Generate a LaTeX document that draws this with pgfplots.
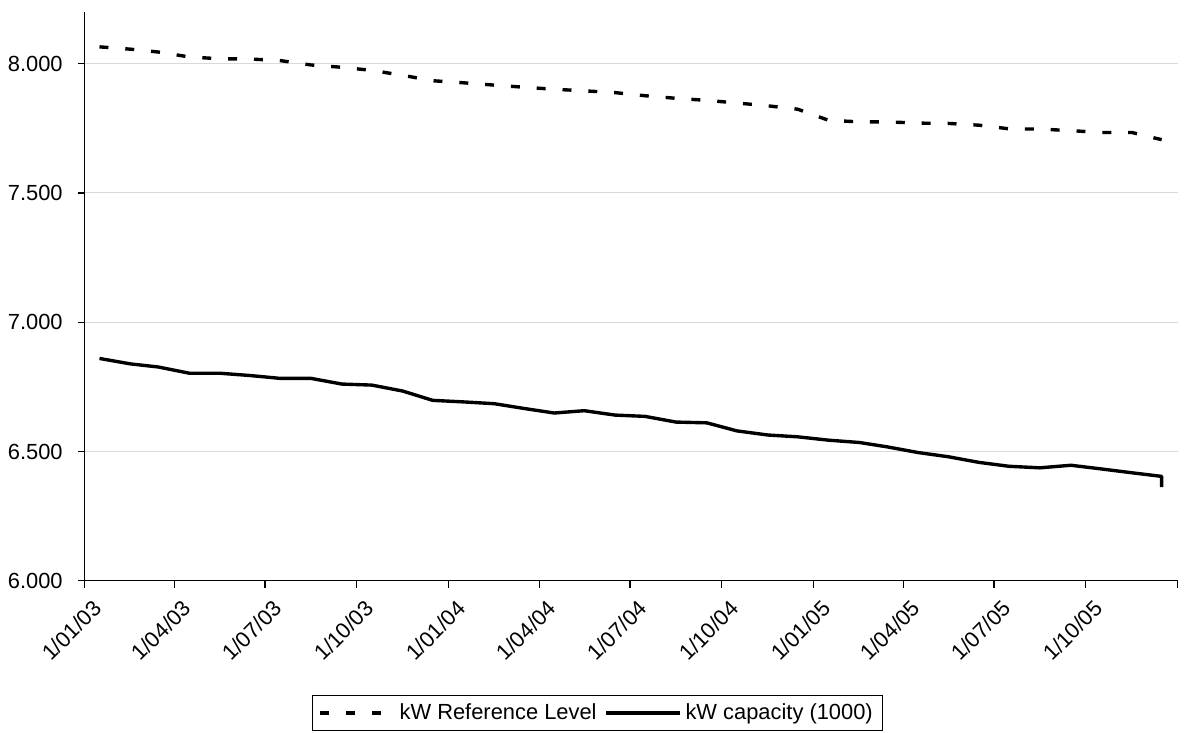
\documentclass[border=0pt]{standalone}
\usepackage{fontspec}
\setmainfont{Liberation Sans}
\usepackage{pgfplots}
\pgfplotsset{compat=1.18}
\begin{document}
\begin{tikzpicture}
\path (-42.5pt,-76pt) rectangle (554.5pt,292pt);
\begin{axis}[
 at={(0pt,0pt)}, anchor=south west,
 scale only axis, width=549.5pt, height=286pt,
 xmin=0, xmax=1096, ymin=6000, ymax=8200,
 axis x line=bottom, axis y line=left,
 axis line style={-, line width=0.6pt, black},
 xtick={0,90,181,273,365,456,547,639,731,821,912,1004,1096},
 xticklabels={1/01/03,1/04/03,1/07/03,1/10/03,1/01/04,1/04/04,1/07/04,1/10/04,1/01/05,1/04/05,1/07/05,1/10/05,{}},
 ytick={6000,6500,7000,7500,8000},
 yticklabels={6.000,6.500,7.000,7.500,8.000},
 tick align=outside, major tick length=3.5pt,
 tick style={black, line width=0.6pt},
 ymajorgrids, grid style={line width=0.5pt, color=black!15},
 ticklabel style={font=\fontsize{11}{13}\selectfont},
 yticklabel style={xshift=-4pt},
 xticklabel style={rotate=45, anchor=north east, xshift=2pt, yshift=-3pt},
 legend columns=2,
 legend style={at={(0.4695,-0.232)}, anchor=center, draw=black, line width=0.6pt,
   font=\fontsize{11}{13}\selectfont, inner xsep=3pt, inner ysep=2pt,
   /tikz/every even column/.append style={column sep=2pt}},
 legend image code/.code={\draw[#1] (0pt,0pt) -- (37pt,0pt);},
]
\addplot[black, line width=1.7pt, dash pattern=on 4.5pt off 8.5pt] coordinates {
(15,8065)(46,8056)(74,8045)(105,8026)(135,8019)(166,8018)(196,8012)(227,7995)(258,7986)(288,7974)(319,7955)(349,7934)
(380,7926)(411,7917)(440,7909)(471,7901)(501,7895)(532,7888)(562,7876)(593,7866)(624,7858)(654,7848)(685,7837)(715,7824)
(746,7781)(777,7775)(805,7775)(836,7770)(866,7769)(897,7762)(927,7748)(958,7747)(989,7741)(1019,7734)(1050,7734)(1080,7706)
};
\addlegendentry{kW Reference Level}
\addplot[black, line width=1.7pt, line join=round] coordinates {
(15,6860)(46,6839)(74,6827)(105,6803)(135,6803)(166,6794)(196,6783)(227,6783)(258,6761)(288,6757)(319,6734)(349,6698)
(380,6692)(411,6685)(440,6667)(471,6649)(501,6658)(532,6641)(562,6636)(593,6614)(624,6611)(654,6580)(685,6564)(715,6557)
(746,6544)(777,6535)(805,6518)(836,6496)(866,6480)(897,6458)(927,6443)(958,6437)(989,6447)(1019,6433)(1050,6418)(1080,6404)(1080,6362)
};
\addlegendentry{kW capacity (1000)}
\end{axis}
\end{tikzpicture}
\end{document}
